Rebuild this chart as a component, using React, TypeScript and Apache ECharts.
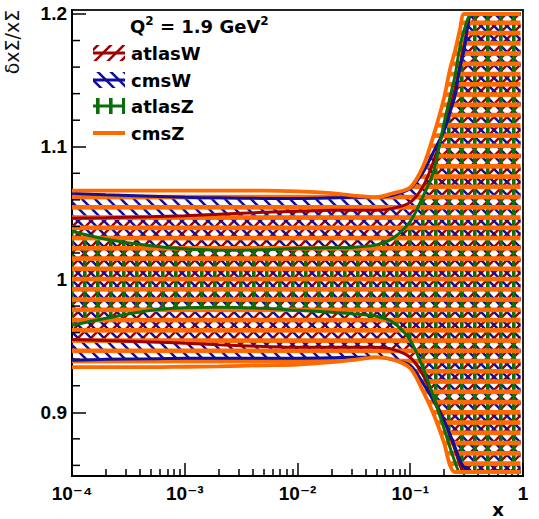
import React, { useEffect, useRef } from 'react';
import * as echarts from 'echarts';

// ---------- data ----------
const xs = [1e-4, 2e-4, 5e-4, 1e-3, 2e-3, 5e-3, 1e-2, 2e-2, 3e-2, 5e-2, 7e-2, 0.1, 0.13, 0.16, 0.2, 0.225, 0.25, 0.275, 0.3, 0.35, 0.4, 0.6, 0.95];

const atlasWHi = [1.0461, 1.0465, 1.0472, 1.048, 1.0491, 1.0506, 1.0514, 1.0521, 1.0521, 1.0521, 1.0536, 1.0581, 1.0702, 1.0883, 1.1139, 1.129, 1.144, 1.1605, 1.1756, 1.2, 1.2, 1.2, 1.2];
const atlasWLo = [0.9549, 0.9541, 0.953, 0.9519, 0.9508, 0.9496, 0.9489, 0.9489, 0.9489, 0.9489, 0.9474, 0.9414, 0.9279, 0.9113, 0.894, 0.8827, 0.8714, 0.8608, 0.855, 0.855, 0.855, 0.855, 0.855];
const cmsWHi = [1.0649, 1.0638, 1.0627, 1.0619, 1.0615, 1.0611, 1.0611, 1.0615, 1.0619, 1.0619, 1.0634, 1.0687, 1.0807, 1.0958, 1.1123, 1.1259, 1.1387, 1.159, 1.1726, 1.2, 1.2, 1.2, 1.2];
const cmsWLo = [0.9392, 0.94, 0.9403, 0.9407, 0.9407, 0.9407, 0.9407, 0.941, 0.9414, 0.9414, 0.9396, 0.9354, 0.9218, 0.909, 0.8932, 0.8834, 0.8737, 0.8639, 0.8586, 0.855, 0.855, 0.855, 0.855];
const atlasZHi = [1.0363, 1.0303, 1.0254, 1.0231, 1.022, 1.0224, 1.0235, 1.0239, 1.0242, 1.0261, 1.031, 1.0438, 1.0627, 1.0807, 1.1184, 1.1372, 1.1538, 1.1749, 1.1877, 1.2, 1.2, 1.2, 1.2];
const atlasZLo = [0.9655, 0.9708, 0.9768, 0.9787, 0.9791, 0.9783, 0.9768, 0.9753, 0.9742, 0.9723, 0.9678, 0.9542, 0.9331, 0.9121, 0.8873, 0.8736, 0.8623, 0.855, 0.855, 0.855, 0.855, 0.855, 0.855];
const cmsZHi = [1.067, 1.067, 1.067, 1.067, 1.067, 1.067, 1.0664, 1.065, 1.0634, 1.062, 1.065, 1.0694, 1.0852, 1.1078, 1.1372, 1.1583, 1.1726, 1.1877, 1.2, 1.2, 1.2, 1.2, 1.2];
const cmsZLo = [0.934, 0.934, 0.934, 0.9343, 0.9346, 0.9354, 0.936, 0.9377, 0.9392, 0.9414, 0.9398, 0.9332, 0.9158, 0.8993, 0.8767, 0.8601, 0.855, 0.855, 0.855, 0.855, 0.855, 0.855, 0.855];

const seriesNames = ['atlasW', 'cmsW', 'atlasZ', 'cmsZ'];
const xTickLabels: Record<string, string> = { '-4': '10⁻⁴', '-3': '10⁻³', '-2': '10⁻²', '-1': '10⁻¹', '0': '1' };
const yMinorTicks = [0.86, 0.88, 0.92, 0.94, 0.96, 0.98, 1.02, 1.04, 1.06, 1.08, 1.12, 1.14, 1.16, 1.18];
const X_MIN = 1e-4;
const X_MAX = 1;
const Y_MIN = 0.852;
const Y_MAX = 1.203;

// ---------- styles ----------
const RED = '#a00000';
const BLUE = '#10109a';
const GREEN = '#0b6e0b';
const ORANGE = '#ff6a00';
const TICK_FONT = '"Liberation Sans", Arial, "DejaVu Sans", sans-serif';
const LEG_FONT = '"DejaVu Sans", sans-serif';

function svgUrl(w: number, h: number, body: string) {
  const s = `<svg xmlns="http://www.w3.org/2000/svg" width="${w}" height="${h}" viewBox="0 0 ${w} ${h}">${body}</svg>`;
  return 'data:image/svg+xml;charset=utf-8,' + encodeURIComponent(s);
}

const P = 13;
function hatch(kind: string, color: string) {
  let body = '';
  let w = P;
  let h = P;
  if (kind === 'slash') {
    body = `<path d="M-2 ${P + 2} L${P + 2} -2 M-2 2 L2 -2 M${P - 2} ${P + 2} L${P + 2} ${P - 2}" stroke="${color}" stroke-width="2.6" fill="none"/>`;
  } else if (kind === 'back') {
    body = `<path d="M-2 -2 L${P + 2} ${P + 2} M-2 ${P - 2} L2 ${P + 2} M${P - 2} -2 L${P + 2} 2" stroke="${color}" stroke-width="2.6" fill="none"/>`;
  } else if (kind === 'vert') {
    body = `<rect x="5" y="0" width="3.6" height="${P}" fill="${color}"/>`;
  } else {
    w = P;
    h = 10.25;
    body = `<rect x="0" y="0" width="${w}" height="4.6" fill="${color}"/>`;
  }
  return { image: svgUrl(w, h, body), repeat: 'repeat', imageWidth: w, imageHeight: h };
}

const bands = [
  { name: seriesNames[0], lo: atlasWLo, hi: atlasWHi, color: RED, kind: 'slash', width: 3 },
  { name: seriesNames[1], lo: cmsWLo, hi: cmsWHi, color: BLUE, kind: 'back', width: 3 },
  { name: seriesNames[2], lo: atlasZLo, hi: atlasZHi, color: GREEN, kind: 'vert', width: 3 },
  { name: seriesNames[3], lo: cmsZLo, hi: cmsZHi, color: ORANGE, kind: 'horiz', width: 3.8 },
];

function fillSeries(b: any) {
  const fill = hatch(b.kind, b.color);
  return {
    type: 'custom',
    name: b.name + ' band',
    silent: true,
    z: 1,
    data: xs.map((x, i) => [x, b.lo[i], b.hi[i]]),
    encode: { x: 0, y: [1, 2] },
    renderItem: (params: any, api: any) => {
      if (params.dataIndexInside !== 0) return null;
      const n = params.dataInsideLength;
      const top: number[][] = [];
      const bot: number[][] = [];
      for (let i = 0; i < n; i++) {
        const x = api.value(0, i);
        bot.push(api.coord([x, api.value(1, i)]));
        top.push(api.coord([x, api.value(2, i)]));
      }
      const pts = top.concat(bot.reverse());
      return {
        type: 'polygon',
        shape: { points: pts },
        style: { fill: fill, stroke: null },
      };
    },
  };
}

function lineSeries(name: string, vals: number[], color: string, width: number) {
  return {
    type: 'line',
    name,
    data: xs.map((x, i) => [x, vals[i]]),
    symbol: 'none',
    showSymbol: false,
    smooth: 0.3,
    silent: true,
    lineStyle: { color, width },
  };
}

// y minor tick marks pointing into the frame, placed through the axes' scales
function yMinorTickSeries() {
  return {
    type: 'custom',
    data: yMinorTicks.map((v) => [X_MIN, v]),
    encode: { x: 0, y: 1 },
    renderItem: (params: any, api: any) => {
      const p = api.coord([api.value(0), api.value(1)]);
      return {
        type: 'line',
        shape: { x1: p[0], y1: p[1], x2: p[0] + 8, y2: p[1] },
        style: { stroke: '#000', lineWidth: 1.5 },
      };
    },
  };
}

export default function App() {
  const ref = useRef<HTMLDivElement>(null);
  useEffect(() => {
    if (!ref.current) return;
    const chart = echarts.init(ref.current, null, { renderer: 'svg' });

    const series: any[] = [];
    bands.forEach((b) => series.push(fillSeries(b)));
    bands.forEach((b) => {
      series.push(lineSeries(b.name + ' upper', b.hi, b.color, b.width));
      series.push(lineSeries(b.name + ' lower', b.lo, b.color, b.width));
    });
    series.push(yMinorTickSeries());

    const legendRows = [53, 80, 106, 133];
    const graphic: any[] = [];
    bands.forEach((b, i) => {
      const yc = legendRows[i];
      if (b.kind !== 'horiz') {
        graphic.push({
          type: 'rect',
          shape: { x: 93, y: yc - 8, width: 32, height: 16 },
          style: { fill: hatch(b.kind, b.color), stroke: null },
        });
      }
      graphic.push({
        type: 'line',
        shape: { x1: 93, y1: yc, x2: 125, y2: yc },
        style: { stroke: b.color, lineWidth: b.kind === 'horiz' ? 4 : 3 },
      });
      graphic.push({
        type: 'text',
        x: 131,
        y: yc,
        style: {
          text: b.name,
          fill: '#000',
          fontSize: 18,
          fontWeight: 'bold',
          fontFamily: LEG_FONT,
          align: 'left',
          verticalAlign: 'middle',
        },
      });
    });
    graphic.push({
      type: 'text',
      x: 130,
      y: 26,
      style: {
        text: '{b|Q}{s|2}{b| = 1.9 GeV}{s|2}',
        align: 'left',
        verticalAlign: 'middle',
        rich: {
          b: { fontSize: 18, fontWeight: 'bold', fontFamily: LEG_FONT, fill: '#000', lineHeight: 22 },
          s: { fontSize: 12, fontWeight: 'bold', fontFamily: LEG_FONT, fill: '#000', lineHeight: 13, verticalAlign: 'top' },
        },
      },
    });
    graphic.push({
      type: 'text',
      x: 12,
      y: 42,
      rotation: Math.PI / 2,
      style: {
        text: 'δxΣ/xΣ',
        fill: '#111',
        fontSize: 19,
        fontFamily: LEG_FONT,
        align: 'center',
        verticalAlign: 'middle',
      },
    });
    graphic.push({
      type: 'text',
      x: 498,
      y: 518,
      style: {
        text: 'x',
        fill: '#000',
        fontSize: 18,
        fontWeight: 'bold',
        fontFamily: LEG_FONT,
        align: 'center',
        verticalAlign: 'bottom',
      },
    });

    const option: any = {
      animation: false,
      backgroundColor: '#fff',
      grid: {
        left: 72,
        right: 16,
        top: 10,
        bottom: 43,
        show: true,
        borderColor: '#222',
        borderWidth: 2,
      },
      xAxis: {
        type: 'log',
        logBase: 10,
        min: X_MIN,
        max: X_MAX,
        axisLine: { show: true, lineStyle: { color: '#000', width: 2 } },
        axisTick: { show: true, inside: true, length: 13, lineStyle: { color: '#000', width: 1.5 } },
        minorTick: { show: true, splitNumber: 9, length: 7, lineStyle: { color: '#000', width: 1.5 } },
        splitLine: { show: false },
        axisLabel: {
          margin: 8,
          color: '#000',
          fontSize: 19,
          fontWeight: 'bold',
          fontFamily: TICK_FONT,
          formatter: (v: number) => xTickLabels[String(Math.round(Math.log10(v)))] || String(v),
        },
      },
      yAxis: {
        type: 'value',
        min: Y_MIN,
        max: Y_MAX,
        axisLine: { show: true, lineStyle: { color: '#000', width: 2 } },
        axisTick: { show: true, inside: true, length: 14, lineStyle: { color: '#000', width: 1.5 } },
        minorTick: { show: false },
        splitLine: { show: false },
        axisLabel: {
          margin: 5,
          color: '#000',
          fontSize: 19,
          fontWeight: 'bold',
          fontFamily: TICK_FONT,
          showMinLabel: false,
          showMaxLabel: false,
        },
      },
      series,
      graphic,
    };
    try {
      chart.setOption(option);
    } catch (e) {
      // keep whatever was drawn
    }
    return () => chart.dispose();
  }, []);

  return (
    <div
      ref={ref}
      style={{ position: 'fixed', left: 0, top: 0, width: 539, height: 519, background: '#fff' }}
    />
  );
}
